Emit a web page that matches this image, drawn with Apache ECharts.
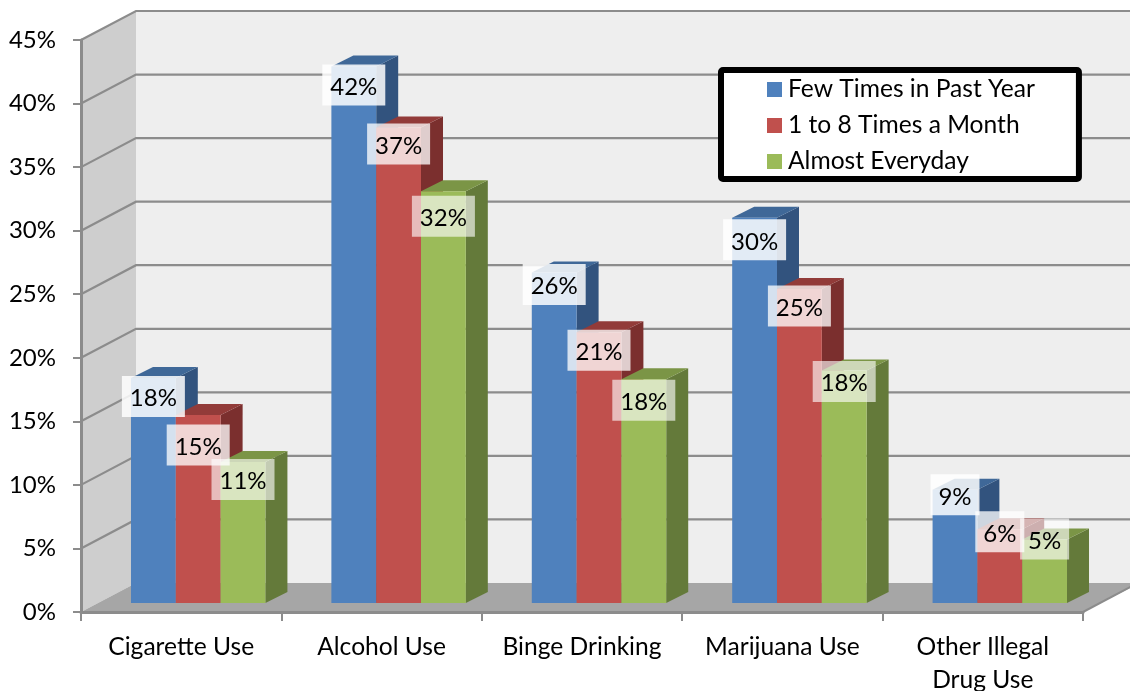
<!DOCTYPE html>
<html><head><meta charset="utf-8">
<style>html,body{margin:0;padding:0;background:#fff}#c{width:1130px;height:691px}</style>
<script src="https://cdn.jsdelivr.net/npm/echarts@6/dist/echarts.min.js"></script>
</head><body><div id="c"></div>
<script>
const categories = ['Cigarette Use','Alcohol Use','Binge Drinking','Marijuana Use','Other Illegal\nDrug Use'];
const seriesNames = ['Few Times in Past Year','1 to 8 Times a Month','Almost Everyday'];
const fewTimes = [17.7,42.2,26.0,30.3,8.9];
const oneToEight = [14.8,37.4,21.3,24.7,5.8];
const almostEveryday = [11.1,32.4,17.6,18.3,5.0];
const yTicks = [0,5,10,15,20,25,30,35,40,45];
// label nudges (px below the bar's front top edge), per series then category
const labelNudge = [[18.5,18.5,12,22,5],[30,16.5,18,17,2.5],[17.5,25,21,11,-0.5]];

const allValues = [fewTimes, oneToEight, almostEveryday];
const palette = [
  {front:'#4f81bd', top:'#3f6898', side:'#32537e', labelAlpha:0.84},
  {front:'#c0504d', top:'#923b39', side:'#7b2f2e', labelAlpha:0.76},
  {front:'#9bbb59', top:'#7b9546', side:'#647a3a', labelAlpha:0.62}
];
const FONT = 'Lato, "Open Sans", sans-serif';
const WALL = {dx:55, dy:-29};
const FLOOR = {dx:17, dy:-9};
const DEPTH = {dx:22, dy:-11};
const BAR_FRAC = 0.2236;

function wallRender(params, api){
  const W = api.getWidth();
  const p0 = api.coord([0,0]), band = api.size([1,0])[0];
  const xL = p0[0]-band/2, xR = xL+band*categories.length;
  const y0 = p0[1], yT = api.coord([0,45])[1];
  const bx = xL+WALL.dx, d = WALL.dy;
  const ch = [
    {type:'rect',shape:{x:bx,y:yT+d,width:W-bx,height:y0-yT},style:{fill:'#eeeeee'}},
    {type:'polygon',shape:{points:[[xL,y0],[bx,y0+d],[bx,yT+d],[xL,yT]]},style:{fill:'#cecece'}},
    {type:'polygon',shape:{points:[[xL,y0],[bx,y0+d],[W+10,y0+d],[xR,y0]]},style:{fill:'#a6a6a6'}}
  ];
  yTicks.forEach(t=>{
    const y = api.coord([0,t])[1];
    if(t===0){
      ch.push({type:'polyline',shape:{points:[[xR,y],[xR+WALL.dx,y+d]]},style:{fill:'none',stroke:'#8c8c8c',lineWidth:2}});
    } else {
      ch.push({type:'polyline',shape:{points:[[xL,y],[bx,y+d],[W+10,y+d]]},style:{fill:'none',stroke:'#8c8c8c',lineWidth:2.2}});
    }
  });
  return {type:'group',children:ch};
}

function barRender(s){
  return function(params, api){
    const i = api.value(0), v = api.value(1);
    const c = api.coord([i,0]), t = api.coord([i,v]);
    const band = api.size([1,0])[0], w = band*BAR_FRAC;
    const x0 = c[0]+FLOOR.dx+(s-1.5)*w, x1 = x0+w;
    const yb = c[1]+FLOOR.dy, yt = t[1]+FLOOR.dy;
    const col = palette[s];
    return {type:'group',children:[
      {type:'polygon',shape:{points:[[x1,yb],[x1+DEPTH.dx,yb+DEPTH.dy],[x1+DEPTH.dx,yt+DEPTH.dy],[x1,yt]]},style:{fill:col.side}},
      {type:'polygon',shape:{points:[[x0,yt],[x0+DEPTH.dx,yt+DEPTH.dy],[x1+DEPTH.dx,yt+DEPTH.dy],[x1,yt]]},style:{fill:col.top}},
      {type:'rect',shape:{x:x0,y:yt,width:w,height:yb-yt},style:{fill:col.front}}
    ]};
  };
}

const labelRows = [];
allValues.forEach((vals,s)=>vals.forEach((v,i)=>labelRows.push([i,v,s,labelNudge[s][i]])));

function labelRender(params, api){
  const i = api.value(0), v = api.value(1), s = api.value(2), n = api.value(3);
  const c = api.coord([i,v]);
  const band = api.size([1,0])[0], w = band*BAR_FRAC;
  const cx = c[0]+FLOOR.dx+(s-1)*w;
  const cy = c[1]+FLOOR.dy+n;
  const txt = Math.round(v)+'%';
  const bw = txt.length>2?63:49, bh = 41;
  return {type:'group',children:[
    {type:'rect',shape:{x:cx-bw/2,y:cy-bh/2,width:bw,height:bh},style:{fill:'rgba(255,255,255,'+palette[s].labelAlpha+')'}},
    {type:'text',style:{x:cx,y:cy+2,text:txt,align:'center',verticalAlign:'middle',fill:'#000',fontSize:24,fontFamily:FONT}}
  ]};
}

const series = [
  {type:'custom',name:'walls',z:1,silent:true,data:[[0,0]],renderItem:wallRender,encode:{x:0,y:1}}
];
allValues.forEach((vals,s)=>{
  series.push({type:'custom',name:seriesNames[s],z:2,itemStyle:{color:palette[s].front},
    data:vals.map((v,i)=>[i,v]),renderItem:barRender(s),encode:{x:0,y:1}});
});
series.push({type:'custom',name:'labels',z:3,silent:true,data:labelRows,renderItem:labelRender,encode:{x:0,y:1}});

const chart = echarts.init(document.getElementById('c'),null,{renderer:'canvas'});
chart.setOption({
  animation:false,
  backgroundColor:'#fff',
  textStyle:{fontFamily:FONT},
  grid:{left:81,right:47,top:40,bottom:79,containLabel:false,outerBoundsMode:'none'},
  legend:{
    data:seriesNames,orient:'vertical',left:721,top:70,z:6,
    backgroundColor:'#fff',borderColor:'#000',borderWidth:6,borderRadius:2,
    padding:[7,44,5,46],itemWidth:15,itemHeight:15,itemGap:11,icon:'rect',selectedMode:false,
    textStyle:{fontSize:24.6,color:'#000',fontFamily:FONT,padding:[0,0,0,1]}
  },
  xAxis:{type:'category',data:categories,z:5,
    axisLine:{lineStyle:{color:'#8c8c8c',width:3}},
    axisTick:{show:true,length:9,lineStyle:{color:'#8c8c8c',width:2}},
    axisLabel:{interval:0,fontSize:24.6,color:'#000',margin:19,lineHeight:33,fontFamily:FONT},
    splitLine:{show:false}},
  yAxis:{type:'value',min:0,max:45,interval:5,z:5,
    axisLine:{show:true,lineStyle:{color:'#8c8c8c',width:3}},
    axisTick:{show:true,length:8,lineStyle:{color:'#8c8c8c',width:2}},
    axisLabel:{formatter:'{value}%',fontSize:24,color:'#000',margin:25,fontFamily:FONT},
    splitLine:{show:false}},
  series:series
});
</script></body></html>
